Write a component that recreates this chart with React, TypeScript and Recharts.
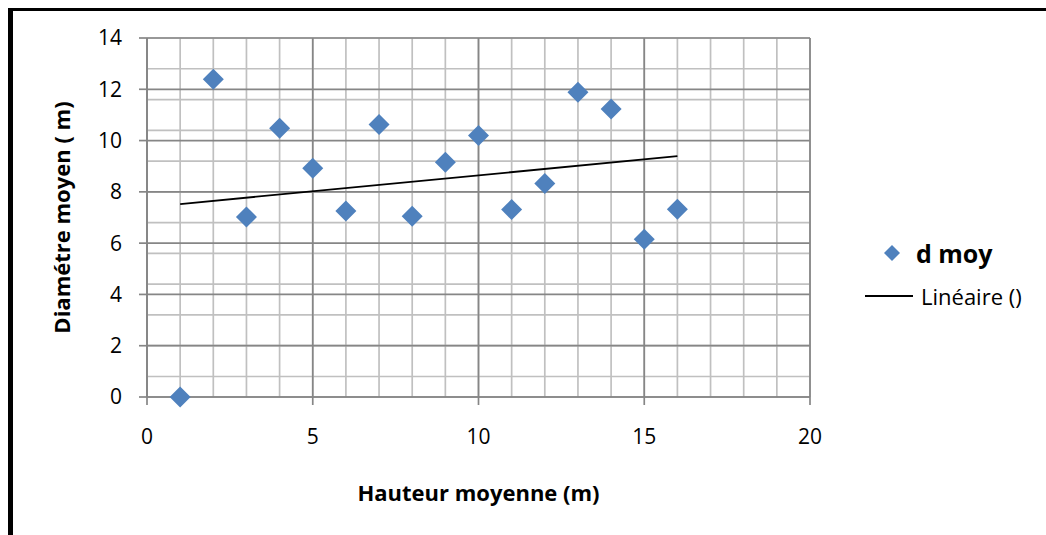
import { ComposedChart, Scatter, Line, XAxis, YAxis, CartesianGrid } from 'recharts'

// Hauteur moyenne (m) / diamètre moyen (m)
const hauteurs = [1, 2, 3, 4, 5, 6, 7, 8, 9, 10, 11, 12, 13, 14, 15, 16]
const diametres = [0, 12.39, 7.02, 10.48, 8.92, 7.25, 10.63, 7.05, 9.15, 10.2, 7.31, 8.33, 11.88, 11.23, 6.15, 7.32]

const xTicks = [0, 5, 10, 15, 20]
const yTicks = [0, 2, 4, 6, 8, 10, 12, 14]

const FONT = '"Open Sans", sans-serif'
const BLUE = '#4f81bd'

const points = hauteurs.map((x, i) => ({ x, y: diametres[i] }))

// least squares fit, drawn between the first and last height
function linearTrend(xs: number[], ys: number[]) {
  const n = xs.length
  const mx = xs.reduce((a, b) => a + b, 0) / n
  const my = ys.reduce((a, b) => a + b, 0) / n
  let sxy = 0
  let sxx = 0
  xs.forEach((x, i) => {
    sxy += (x - mx) * (ys[i] - my)
    sxx += (x - mx) * (x - mx)
  })
  const slope = sxy / sxx
  const at = (x: number) => my + slope * (x - mx)
  const x0 = Math.min(...xs)
  const x1 = Math.max(...xs)
  return [{ x: x0, y: at(x0) }, { x: x1, y: at(x1) }]
}

const trend = linearTrend(hauteurs, diametres)

// grid positions: minor every 1 on x, every 0.4 on y
const minorX = Array.from({ length: 21 }, (_, i) => i)
const minorY = Array.from({ length: 36 }, (_, i) => Math.round(i * 4) / 10)

function Diamond(props: any) {
  const { cx, cy } = props
  const r = 10.5
  return <polygon points={`${cx},${cy - r} ${cx + r},${cy} ${cx},${cy + r} ${cx - r},${cy}`} fill={BLUE} />
}

function LegendBox() {
  return (
    <div style={{ position: 'absolute', left: 865, top: 236, fontFamily: FONT, color: '#000' }}>
      <div style={{ display: 'flex', alignItems: 'center', height: 34 }}>
        <svg width={43} height={20} style={{ marginRight: 8 }}>
          <polygon points="27,2 35,10 27,18 19,10" fill={BLUE} />
        </svg>
        <span style={{ fontWeight: 700, fontSize: 25 }}>d moy</span>
      </div>
      <div style={{ display: 'flex', alignItems: 'center', height: 32, marginTop: 10 }}>
        <svg width={48} height={4} style={{ marginRight: 8 }}>
          <line x1={0} y1={2} x2={48} y2={2} stroke="#000" strokeWidth={1.8} />
        </svg>
        <span style={{ fontSize: 22 }}>Linéaire ()</span>
      </div>
    </div>
  )
}

export default function App() {
  return (
    <div style={{ position: 'fixed', left: 0, top: 0, width: 1046, height: 535, background: '#fff', overflow: 'hidden' }}>
      <div
        style={{
          position: 'absolute',
          left: 8,
          top: 8,
          width: 1100,
          height: 600,
          borderLeft: '5px solid #000',
          borderTop: '3px solid #000',
        }}
      />
      <div style={{ position: 'absolute', left: 0, top: 0 }}>
        <ComposedChart width={1046} height={535} margin={{ top: 38, right: 236, left: 27, bottom: 28 }}>
          <CartesianGrid stroke="#c0c0c0" strokeWidth={1.7} horizontalValues={minorY} verticalValues={minorX} />
          <CartesianGrid stroke="#868686" strokeWidth={1.7} horizontalValues={yTicks} verticalValues={xTicks} />
          <XAxis
            dataKey="x"
            type="number"
            domain={[0, 20]}
            ticks={xTicks}
            height={110}
            tickSize={8}
            tickMargin={24}
            axisLine={{ stroke: '#868686', strokeWidth: 1.7 }}
            tickLine={{ stroke: '#868686', strokeWidth: 1.7 }}
            tick={{ fontSize: 21, fill: '#000', fontFamily: FONT }}
            label={{
              value: 'Hauteur moyenne (m)',
              position: 'insideBottom',
              offset: 6,
              style: { fontSize: 22, fontWeight: 700, fill: '#000', fontFamily: FONT },
            }}
          />
          <YAxis
            type="number"
            domain={[0, 14]}
            ticks={yTicks}
            width={120}
            tickSize={8}
            tickMargin={17}
            axisLine={{ stroke: '#868686', strokeWidth: 1.7 }}
            tickLine={{ stroke: '#868686', strokeWidth: 1.7 }}
            tick={{ fontSize: 21, fill: '#000', fontFamily: FONT }}
            label={{
              value: 'Diamétre moyen ( m)',
              angle: -90,
              position: 'insideLeft',
              offset: 35,
              style: { textAnchor: 'middle', fontSize: 22, fontWeight: 700, fill: '#000', fontFamily: FONT },
            }}
          />
          <Line
            data={trend}
            dataKey="y"
            type="linear"
            stroke="#000"
            strokeWidth={1.8}
            dot={false}
            activeDot={false}
            isAnimationActive={false}
          />
          <Scatter data={points} dataKey="y" fill={BLUE} shape={<Diamond />} isAnimationActive={false} />
        </ComposedChart>
      </div>
      <LegendBox />
    </div>
  )
}
